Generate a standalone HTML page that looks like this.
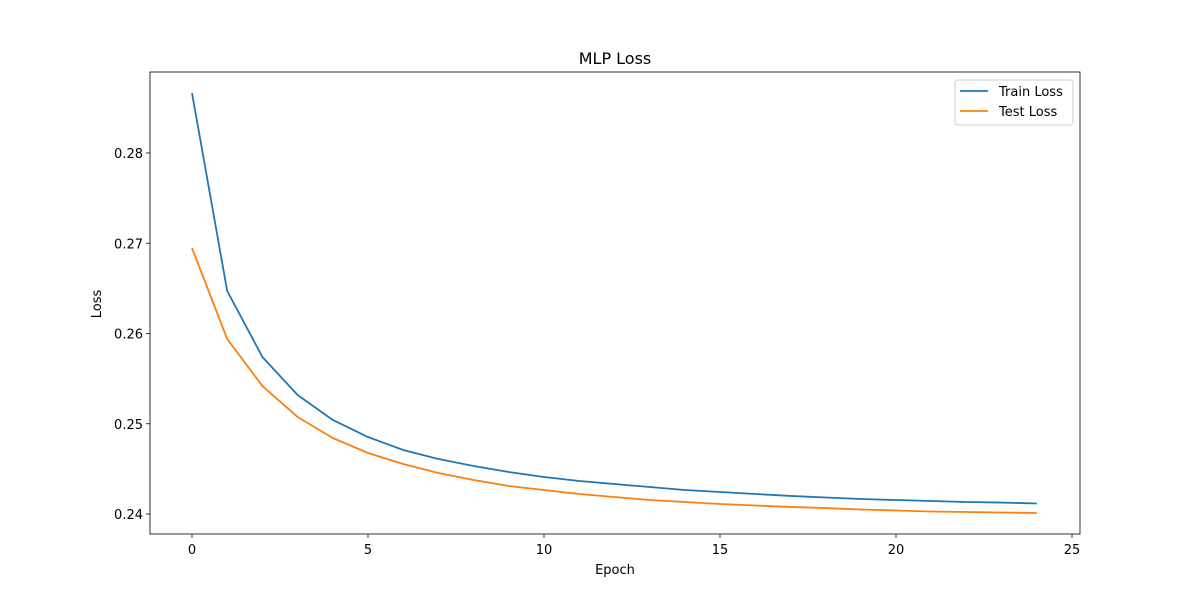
<!DOCTYPE html>
<html><head><meta charset="utf-8"><style>
body{margin:0;background:#fff;}
svg text{font-family:"DejaVu Sans","Liberation Sans",sans-serif;fill:#000;}
</style></head><body>
<svg id="chart" width="1200" height="600" xmlns="http://www.w3.org/2000/svg">
<rect width="1200" height="600" fill="#fff"/>
<g id="plot"></g>
</svg>
<script>
const epochs=[0,1,2,3,4,5,6,7,8,9,10,11,12,13,14,15,16,17,18,19,20,21,22,23,24];
const trainLoss=[0.28665,0.26471,0.25740,0.25319,0.25042,0.24853,0.24709,0.24609,0.24532,0.24465,0.24410,0.24366,0.24332,0.24299,0.24266,0.24244,0.24222,0.24200,0.24183,0.24166,0.24155,0.24144,0.24133,0.24127,0.24116];
const testLoss=[0.26947,0.25939,0.25418,0.25075,0.24842,0.24676,0.24554,0.24454,0.24377,0.24310,0.24266,0.24222,0.24188,0.24155,0.24133,0.24111,0.24094,0.24078,0.24066,0.24050,0.24039,0.24028,0.24022,0.24017,0.24011];
const xTicks=[0,5,10,15,20,25];
const yTicks=[0.24,0.25,0.26,0.27,0.28];

const L=150,R=1080,T=72,B=534;
const xs=v=>192+v*35.2;
const ys=v=>514-(v-0.24)*9025;
const NS="http://www.w3.org/2000/svg";
const g=document.getElementById('plot');
function mk(tag,attrs,parent){const e=document.createElementNS(NS,tag);for(const k in attrs)e.setAttribute(k,attrs[k]);(parent||g).appendChild(e);return e;}

const frame=mk('rect',{x:L,y:T,width:R-L,height:B-T,fill:'none',stroke:'#000','stroke-width':0.8});



xTicks.forEach(v=>{
  const x=xs(v);
  const t=mk('line',{x1:x,x2:x,y1:B,y2:B+4,stroke:'#000','stroke-width':0.8});
  
  
  const l=mk('text',{x:x,y:B+20,'text-anchor':'middle','font-size':13});
  l.textContent=v;
  
  
});
yTicks.forEach(v=>{
  const y=ys(v);
  const t=mk('line',{x1:L-4,x2:L,y1:y,y2:y,stroke:'#000','stroke-width':0.8});
  
  
  const l=mk('text',{x:L-7,y:y+5,'text-anchor':'end','font-size':13});
  l.textContent=v.toFixed(2);
  
  
});

function series(data,color,name){
  const p=mk('polyline',{points:data.map((v,i)=>xs(epochs[i])+','+ys(v)).join(' '),fill:'none',stroke:color,'stroke-width':1.8,'stroke-linejoin':'round'});
  
  
}
series(trainLoss,'#1f77b4','train-loss-line');
series(testLoss,'#ff7f0e','test-loss-line');

const title=mk('text',{x:615,y:64,'text-anchor':'middle','font-size':16});
title.textContent='MLP Loss';


const xt=mk('text',{x:615,y:574,'text-anchor':'middle','font-size':13});
xt.textContent='Epoch';


const yt=mk('text',{x:101,y:304,'text-anchor':'middle','font-size':13,transform:'rotate(-90 101 304)'});
yt.textContent='Loss';



const lg=mk('g',{});


mk('rect',{x:955,y:80,width:118,height:45,rx:3,fill:'#fff',stroke:'#ccc','stroke-width':1},lg);
[['Train Loss','#1f77b4',91],['Test Loss','#ff7f0e',111]].forEach(([n,c,y])=>{
  const e=mk('g',{},lg);
  
  
  mk('line',{x1:960,x2:988,y1:y,y2:y,stroke:c,'stroke-width':1.8},e);
  const t=mk('text',{x:999,y:y+5,'font-size':13},e);
  t.textContent=n;
});
</script>
</body></html>
